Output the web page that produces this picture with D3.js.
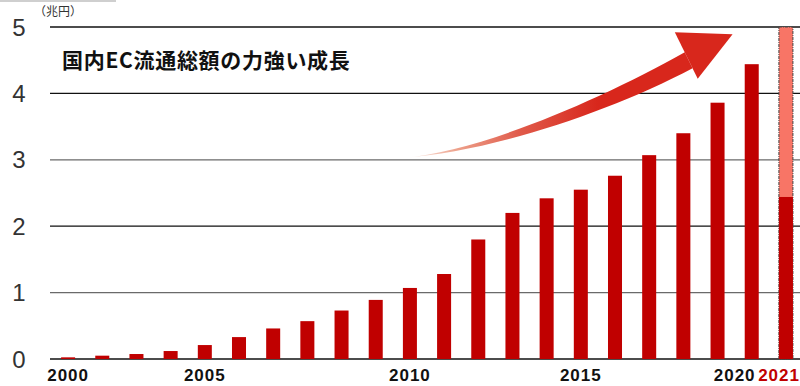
<!DOCTYPE html>
<html><head><meta charset="utf-8">
<script src="https://cdn.jsdelivr.net/npm/d3@7"></script>
<style>html,body{margin:0;padding:0;background:#fff;}svg{display:block;}</style>
</head><body>
<svg id="chart" width="800" height="386"></svg>
<script>
// ---- data ----
const years = d3.range(2000, 2022);
const ecValues = [0.025,0.05,0.075,0.12,0.21,0.33,0.46,0.57,0.73,0.89,1.07,1.28,1.80,2.20,2.42,2.55,2.76,3.07,3.40,3.86,4.44,2.44];
const targetYear = 2021;
const targetValue = 5.0;
const yTicks = [0,1,2,3,4,5];
const xTickLabels = ["2000","2005","2010","2015","2020","2021"];
const unitLabel = "（兆円）";
const title = "国内EC流通総額の力強い成長";

const svg = d3.select("#chart");
const W = 800, H = 386;
const y = d3.scaleLinear().domain([0,5]).range([359,27]);
const x = d3.scaleBand().domain(years).range([51,803]).paddingInner(0.59).paddingOuter(0.295);
const bw = x.bandwidth();
const xc = d3.scaleLinear().domain([2000,2021]).range([x(2000)+bw/2, x(2021)+bw/2]);

// top grey rule
svg.append("rect").attr("x",0).attr("y",0).attr("width",116).attr("height",2).attr("fill","#cfcfcf");

// gridlines
svg.append("g").selectAll("line").data(yTicks).join("line")
  .attr("x1",50).attr("x2",W).attr("y1",d=>y(d)).attr("y2",d=>y(d))
  .attr("stroke",d=> (d===1||d===3) ? "#6a6a6a" : "#111").attr("stroke-width",1.3);

// y labels
svg.append("g").selectAll("text").data(yTicks).join("text")
  .attr("x",19).attr("y",d=>y(d)).attr("dy","0.36em").attr("text-anchor","middle")
  .attr("font-family","Liberation Sans, Arial, sans-serif").attr("font-size",24)
  .attr("fill","#333").text(d=>d);

svg.append("text").attr("x",34).attr("y",16)
  .attr("font-family","Noto Sans CJK JP, sans-serif").attr("font-size",12).attr("fill","#333")
  .text(unitLabel);

// target bar (2021)
svg.append("rect")
  .attr("x",x(targetYear)).attr("y",y(targetValue))
  .attr("width",bw).attr("height",y(0)-y(targetValue))
  .attr("fill","#f87566").attr("stroke","#444").attr("stroke-width",1)
  .attr("stroke-dasharray","3,1,1,1");

// bars
svg.append("g").selectAll("rect").data(years).join("rect")
  .attr("x",d=>x(d)).attr("width",bw)
  .attr("y",(d,i)=>y(ecValues[i])).attr("height",(d,i)=>y(0)-y(ecValues[i]))
  .attr("fill","#c00000");

// arrow annotation (in data units)
const defs = svg.append("defs");
const grad = defs.append("linearGradient").attr("id","ag").attr("gradientUnits","userSpaceOnUse")
  .attr("x1",xc(2009.8)).attr("x2",xc(2015.5)).attr("y1",0).attr("y2",0);
grad.append("stop").attr("offset",0).attr("stop-color","#f8e2da").attr("stop-opacity",0.7);
grad.append("stop").attr("offset",0.28).attr("stop-color","#eda08a");
grad.append("stop").attr("offset",0.6).attr("stop-color","#e05a4a");
grad.append("stop").attr("offset",1).attr("stop-color","#d8271c");

const P = (yr,v)=>[xc(yr), y(v)];
const p = d3.path();
const s = P(2009.8,3.03);
p.moveTo(s[0],s[1]);
let c1 = P(2012.05,3.12), c2 = P(2015.55,3.9), e = P(2018.04,4.62);
p.bezierCurveTo(c1[0],c1[1],c2[0],c2[1],e[0],e[1]);
const l0 = P(2018.27,4.38);
p.lineTo(l0[0],l0[1]);
c1 = P(2015.85,3.72); c2 = P(2012.35,3.12);
p.bezierCurveTo(c1[0],c1[1],c2[0],c2[1],s[0],s[1]);
p.closePath();
svg.append("path").attr("d",p.toString()).attr("fill","url(#ag)");
const head = [[2017.75,4.92],[2019.44,4.89],[2018.42,4.22]];
svg.append("path").attr("d","M"+head.map(d=>xc(d[0])+","+y(d[1])).join("L")+"Z").attr("fill","#d8271c");

// title
svg.append("text").attr("x",62).attr("y",68)
  .attr("font-family","Noto Sans CJK JP, sans-serif").attr("font-size",21).attr("font-weight","bold")
  .attr("letter-spacing",0.7)
  .attr("fill","#111").text(title);

// x labels
const labelAnchor = {"2000":2000,"2005":2004,"2010":2010,"2015":2015,"2020":2019.5,"2021":2020.8};
svg.append("g").selectAll("text").data(xTickLabels).join("text")
  .attr("x",d=>xc(labelAnchor[d])).attr("y",381).attr("text-anchor","middle")
  .attr("font-family","Liberation Sans, Arial, sans-serif").attr("font-size",17).attr("font-weight","bold")
  .attr("letter-spacing",1)
  .attr("fill",d=> d===String(targetYear) ? "#c00000" : "#111").text(d=>d);
</script>
</body></html>
